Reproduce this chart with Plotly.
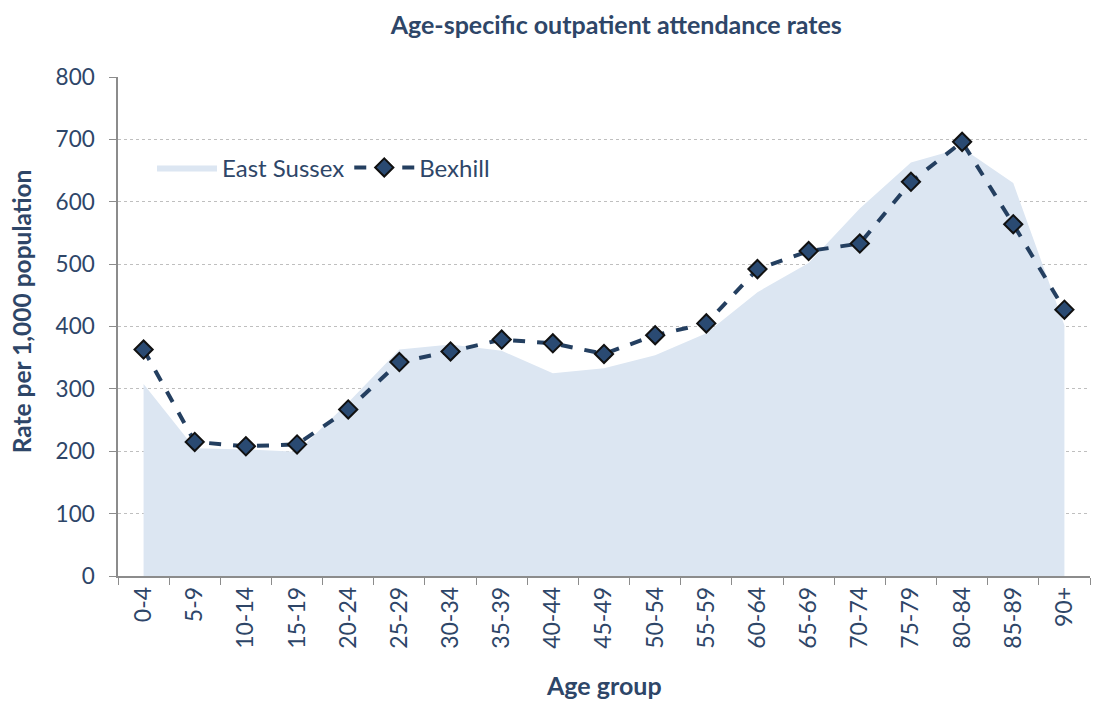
import plotly.graph_objects as go

age_groups = ["0-4", "5-9", "10-14", "15-19", "20-24", "25-29", "30-34", "35-39", "40-44",
              "45-49", "50-54", "55-59", "60-64", "65-69", "70-74", "75-79", "80-84", "85-89", "90+"]

east_sussex = [308, 205, 203, 199, 278, 363, 371, 361, 325, 333, 354, 389, 455, 502, 589, 663, 686, 630, 402]
bexhill = [363, 215, 208, 211, 267, 343, 360, 379, 373, 356, 386, 405, 492, 521, 533, 632, 696, 564, 427]

navy = "#243F60"
text_col = "#2E4668"
grid_col = "#BFBFBF"
axis_col = "#8C8C8C"
font_family = "Lato, 'Open Sans', sans-serif"

fig = go.Figure()

fig.add_trace(go.Scatter(
    x=age_groups, y=east_sussex, name="East Sussex",
    mode="lines", line=dict(width=0, color="#DCE6F2"),
    fill="tozeroy", fillcolor="#DCE6F2"
))

fig.add_trace(go.Scatter(
    x=age_groups, y=bexhill, name="Bexhill",
    mode="lines+markers",
    line=dict(color=navy, width=4, dash="dash"),
    marker=dict(symbol="diamond", size=14, color="#2A4A72",
                line=dict(color="#111111", width=2))
))

# page body has an 8px margin, so the figure is a little smaller than the window
fig.update_layout(
    width=1110, height=694,
    paper_bgcolor="white", plot_bgcolor="white",
    margin=dict(l=110, r=28, t=69, b=126),
    font=dict(family=font_family, color=text_col, size=20),
    title=dict(text="<b>Age-specific outpatient attendance rates</b>",
               x=0.548, xanchor="center", y=1 - 17 / 694, yanchor="middle",
               font=dict(size=25, color=text_col)),
    legend=dict(x=0.035, y=0.818, xanchor="left", yanchor="middle",
                orientation="h", bgcolor="rgba(0,0,0,0)",
                itemwidth=60, font=dict(size=24, color=text_col)),
    showlegend=True,
    annotations=[
        dict(text="<b>Rate per 1,000 population</b>", xref="paper", yref="paper",
             x=-0.099, y=0.53, textangle=-90, showarrow=False,
             xanchor="center", yanchor="middle",
             font=dict(size=24.5, color=text_col)),
        dict(text="<b>Age group</b>", xref="paper", yref="paper",
             x=0.5, y=-0.218, showarrow=False,
             xanchor="center", yanchor="middle",
             font=dict(size=25, color=text_col)),
    ],
)

fig.update_xaxes(
    type="category", automargin=False,
    tickangle=-90, tickfont=dict(size=23, color=text_col),
    showline=True, linecolor=axis_col, linewidth=1.5,
    ticks="outside", tickson="boundaries", ticklen=7, tickcolor=axis_col,
    showgrid=False, range=[-0.5, len(age_groups) - 0.5],
)

fig.update_yaxes(
    range=[0, 800], dtick=100, automargin=False,
    tickfont=dict(size=22.5, color=text_col), ticklabelstandoff=10,
    showline=True, linecolor=axis_col, linewidth=1.5,
    ticks="outside", ticklen=7, tickcolor=axis_col,
    showgrid=True, gridcolor=grid_col, griddash="dot", gridwidth=1,
    zeroline=False,
)

fig.write_html("out.html")
